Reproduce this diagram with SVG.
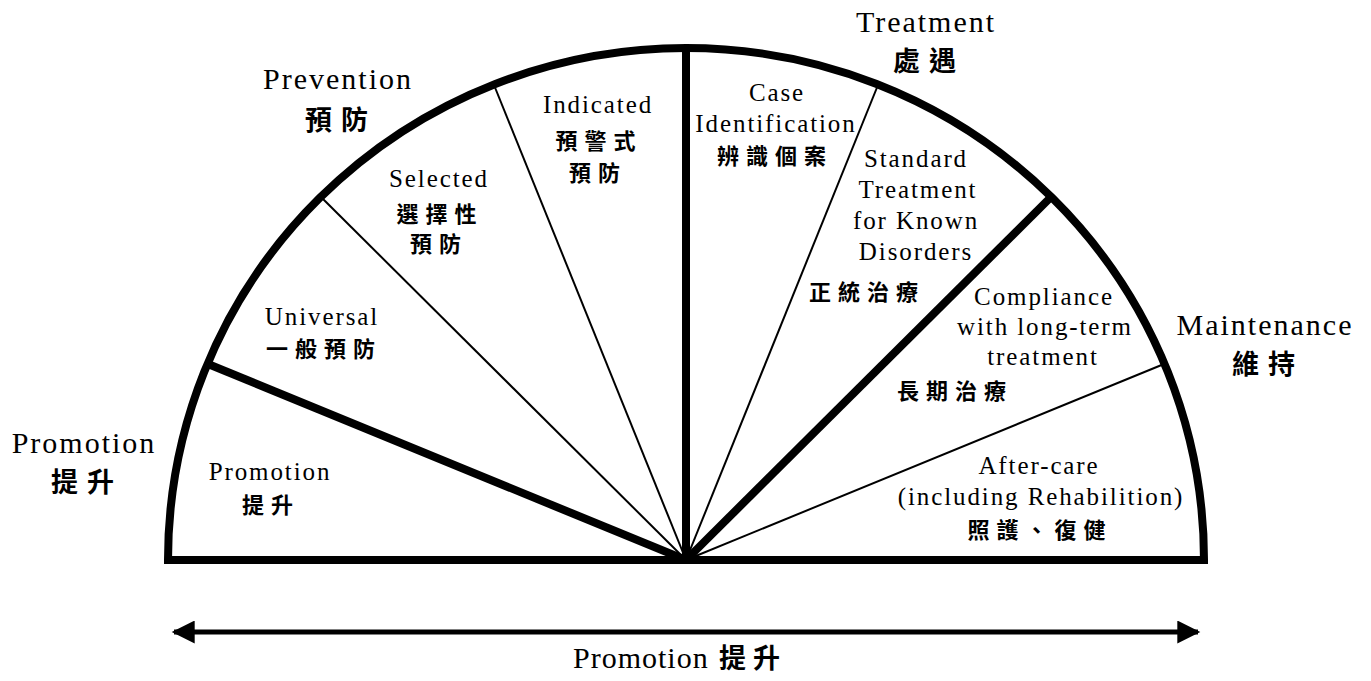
<svg xmlns="http://www.w3.org/2000/svg" width="1371" height="681" viewBox="0 0 1371 681">
<style>
.en{font-family:"Liberation Serif","Times New Roman",serif;fill:#000;text-anchor:middle}
.big{font-size:30px;letter-spacing:2px}
.in{font-size:25px;letter-spacing:1.9px}
.cj{font-family:"Noto Sans CJK TC","Noto Sans CJK SC",sans-serif;font-weight:700;fill:#000;text-anchor:middle}
.cjb{font-size:27px;letter-spacing:9px}
.cji{font-size:22px;letter-spacing:7px}
.thin{stroke:#000;stroke-width:2;fill:none}
.thick{stroke:#000;stroke-width:8;fill:none}
</style>
<defs>
<marker id="ah" viewBox="0 0 10 10" refX="9" refY="5" markerWidth="5" markerHeight="4.6" orient="auto-start-reverse" markerUnits="strokeWidth">
<path d="M0,0 L10,5 L0,10 z" fill="#000"/>
</marker>
</defs>
<rect width="1371" height="681" fill="#fff"/>
<g id="connectors">
<line class="thin" x1="686" y1="560" x2="322" y2="198"/>
<line class="thin" x1="686" y1="560" x2="494" y2="85"/>
<line class="thin" x1="686" y1="560" x2="878" y2="85"/>
<line class="thin" x1="686" y1="560" x2="1164" y2="364"/>
<line class="thick" x1="686" y1="560" x2="208" y2="364"/>
<line class="thick" x1="686" y1="560" x2="1050" y2="198"/>
<line class="thick" x1="686" y1="560" x2="686" y2="48"/>
<path class="thick" d="M168,560 A518,512 0 0 1 1204,560 Z"/>
<line stroke="#000" stroke-width="5" x1="174" y1="632" x2="1198" y2="632" marker-start="url(#ah)" marker-end="url(#ah)"/>
</g>
<g id="treatment"><text class="en big" x="926" y="32">Treatment</text><text class="cj cjb" x="929" y="71">處遇</text></g>
<g id="prevention"><text class="en big" x="338" y="89">Prevention</text><text class="cj cjb" x="341" y="130">預防</text></g>
<g id="maintenance"><text class="en big" x="1265" y="335">Maintenance</text><text class="cj cjb" x="1268" y="374">維持</text></g>
<g id="promotion-left"><text class="en big" x="84" y="453">Promotion</text><text class="cj cjb" x="87" y="492">提升</text></g>
<g id="promotion-bottom"><text class="en big" style="text-anchor:start;letter-spacing:1px" x="573" y="668">Promotion</text><text class="cj cjb" style="text-anchor:start;letter-spacing:7px" x="719" y="668">提升</text></g>
<g id="indicated"><text class="en in" x="598" y="113">Indicated</text><text class="cj cji" x="599" y="149">預警式</text><text class="cj cji" x="598" y="181">預防</text></g>
<g id="case"><text class="en in" x="777" y="101">Case</text><text class="en in" x="776" y="132">Identification</text><text class="cj cji" x="775" y="164">辨識個案</text></g>
<g id="selected"><text class="en in" x="439" y="187">Selected</text><text class="cj cji" x="440" y="222">選擇性</text><text class="cj cji" x="439" y="252">預防</text></g>
<g id="standard"><text class="en in" x="916" y="167">Standard</text><text class="en in" x="918" y="198">Treatment</text><text class="en in" x="916" y="229">for Known</text><text class="en in" x="916" y="260">Disorders</text><text class="cj cji" x="867" y="300">正統治療</text></g>
<g id="universal"><text class="en in" x="322" y="325">Universal</text><text class="cj cji" x="324" y="357">一般預防</text></g>
<g id="compliance"><text class="en in" x="1044" y="305">Compliance</text><text class="en in" x="1045" y="335">with long-term</text><text class="en in" x="1043" y="365">treatment</text><text class="cj cji" x="955" y="399">長期治療</text></g>
<g id="promotion-inner"><text class="en in" x="270" y="480">Promotion</text><text class="cj cji" x="271" y="513">提升</text></g>
<g id="aftercare"><text class="en in" x="1039" y="474">After-care</text><text class="en in" x="1041" y="505">(including Rehabilition)</text><text class="cj cji" x="1040" y="538">照護、復健</text></g>
</svg>
